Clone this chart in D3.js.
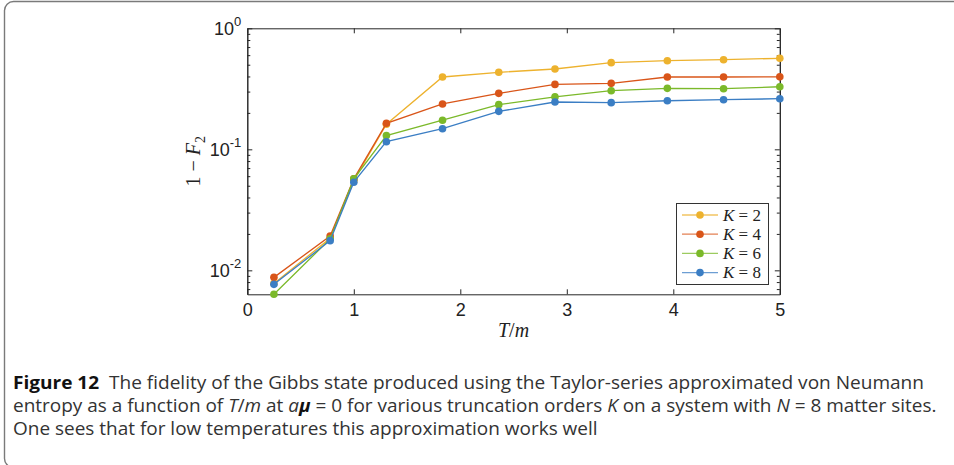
<!DOCTYPE html>
<html>
<head>
<meta charset="utf-8">
<script src="https://cdn.jsdelivr.net/npm/d3@7"></script>
<style>
  body { margin: 0; background: #fff; }
  svg { display: block; }
</style>
</head>
<body>
<svg width="954" height="465"></svg>
<script>
// T/m values where the fidelity was computed
const tm = [0.25, 0.778, 1.0, 1.306, 1.833, 2.361, 2.889, 3.417, 3.944, 4.472, 5.0];
// 1 - F2 for each truncation order K
const k2 = [0.0078, 0.0184, 0.055, 0.161, 0.396, 0.433, 0.461, 0.520, 0.540, 0.550, 0.565];
const k4 = [0.00875, 0.0192, 0.057, 0.164, 0.237, 0.290, 0.344, 0.351, 0.396, 0.396, 0.397];
const k6 = [0.00634, 0.0182, 0.057, 0.130, 0.174, 0.234, 0.271, 0.305, 0.319, 0.317, 0.329];
const k8 = [0.00766, 0.0176, 0.0535, 0.1156, 0.148, 0.206, 0.246, 0.243, 0.252, 0.257, 0.262];
const seriesNames = ["2", "4", "6", "8"];
const xTicks = [0, 1, 2, 3, 4, 5];
const yTicks = [0.01, 0.1, 1];
const yTickExp = ["-2", "-1", "0"];

const colors = ["#EDB22E", "#D95519", "#7BB92A", "#3B7EC4"];
const series = [k2, k4, k6, k8];

const svg = d3.select("svg");
const tickFont = "'Liberation Sans', Arial, Helvetica, sans-serif";
const mathFont = "'Liberation Serif', 'DejaVu Serif', serif";

// figure frame (rounded, runs off the right and bottom)
svg.append("rect")
  .attr("x", 4.5).attr("y", 1.5)
  .attr("width", 1000).attr("height", 466)
  .attr("rx", 9)
  .attr("fill", "none")
  .attr("stroke", "#7a7a7a")
  .attr("stroke-width", 1.4);

const box = {left: 247.3, right: 779.8, top: 28.3, bottom: 294.3};

const x = d3.scaleLinear().domain([0, 5]).range([box.left, box.right]);
const y = d3.scaleLog().domain([Math.pow(10, -2.198), 1]).range([box.bottom, box.top]);

const axisColor = "#262626";

// axes with inward ticks, mirrored on top and right
const xAxisB = d3.axisBottom(x).tickValues(xTicks).tickSize(-5).tickSizeOuter(0).tickPadding(9).tickFormat(d3.format("d"));
const xAxisT = d3.axisTop(x).tickValues(xTicks).tickSize(-5).tickSizeOuter(0).tickFormat("");

svg.append("g").attr("transform", "translate(0," + box.bottom + ")").call(xAxisB)
  .call(g => g.selectAll("text").attr("font-size", 18).attr("font-family", tickFont).attr("fill", "#222"));
svg.append("g").attr("transform", "translate(0," + box.top + ")").call(xAxisT);

// minor log ticks
const minor = [];
[0.001, 0.01, 0.1].forEach(d => {
  for (let m = 2; m <= 9; m++) {
    const v = d * m;
    if (v >= y.domain()[0] && v <= 1) minor.push(v);
  }
});

const yAxisL = d3.axisLeft(y).tickValues(yTicks).tickSize(-5).tickSizeOuter(0).tickFormat("");
const yAxisR = d3.axisRight(y).tickValues(yTicks).tickSize(-5).tickSizeOuter(0).tickFormat("");
const yMinorL = d3.axisLeft(y).tickValues(minor).tickSize(-3).tickSizeOuter(0).tickFormat("");
const yMinorR = d3.axisRight(y).tickValues(minor).tickSize(-3).tickSizeOuter(0).tickFormat("");

svg.append("g").attr("transform", "translate(" + box.left + ",0)").call(yAxisL);
svg.append("g").attr("transform", "translate(" + box.right + ",0)").call(yAxisR);
svg.append("g").attr("transform", "translate(" + box.left + ",0)").call(yMinorL);
svg.append("g").attr("transform", "translate(" + box.right + ",0)").call(yMinorR);

svg.selectAll(".domain, .tick line").attr("stroke", axisColor).attr("stroke-width", 1);

// y tick labels as 10^n
yTicks.forEach((v, i) => {
  const t = svg.append("text")
    .attr("x", box.left - 6)
    .attr("y", y(v) + 7)
    .attr("text-anchor", "end")
    .attr("font-family", tickFont)
    .attr("font-size", 18)
    .attr("fill", "#222");
  t.append("tspan").text("10");
  t.append("tspan").attr("font-size", 13).attr("dy", -9).text(yTickExp[i]);
});

// lines and markers
const line = d3.line().x((d, i) => x(tm[i])).y(d => y(d));
series.forEach((s, k) => {
  svg.append("path")
    .datum(s)
    .attr("d", line)
    .attr("fill", "none")
    .attr("stroke", colors[k])
    .attr("stroke-width", 1.3);
  svg.append("g").selectAll("circle")
    .data(s)
    .enter()
    .append("circle")
    .attr("cx", (d, i) => x(tm[i]))
    .attr("cy", d => y(d))
    .attr("r", 3.8)
    .attr("fill", colors[k]);
});

// axis labels
const xl = svg.append("text")
  .attr("x", (box.left + box.right) / 2)
  .attr("y", 337)
  .attr("text-anchor", "middle")
  .attr("font-family", mathFont)
  .attr("font-size", 20)
  .attr("fill", "#222");
xl.append("tspan").attr("font-style", "italic").text("T");
xl.append("tspan").text("/");
xl.append("tspan").attr("font-style", "italic").text("m");

const yl = svg.append("text")
  .attr("transform", "translate(200," + ((box.top + box.bottom) / 2) + ") rotate(-90)")
  .attr("text-anchor", "middle")
  .attr("font-family", mathFont)
  .attr("font-size", 20)
  .attr("fill", "#222");
yl.append("tspan").text("1 \u2212 ");
yl.append("tspan").attr("font-style", "italic").text("F");
yl.append("tspan").attr("font-size", 14).attr("dy", 5).text("2");

// legend
const legend = svg.append("g");
legend.append("rect")
  .attr("x", 676.5).attr("y", 203.5)
  .attr("width", 92).attr("height", 81)
  .attr("fill", "#fff")
  .attr("stroke", "#333")
  .attr("stroke-width", 1);
seriesNames.forEach((n, k) => {
  const ly = 215 + k * 19.2;
  legend.append("line")
    .attr("x1", 682).attr("x2", 718)
    .attr("y1", ly).attr("y2", ly)
    .attr("stroke", colors[k])
    .attr("stroke-opacity", 0.75)
    .attr("stroke-width", 1.3);
  legend.append("circle")
    .attr("cx", 700).attr("cy", ly).attr("r", 3.8)
    .attr("fill", colors[k]);
  const t = legend.append("text")
    .attr("x", 723).attr("y", ly + 5.5)
    .attr("font-family", mathFont)
    .attr("font-size", 17)
    .attr("fill", "#222")
    .attr("xml:space", "preserve")
    .style("white-space", "pre");
  t.append("tspan").attr("font-style", "italic").text("K");
  t.append("tspan").text(" = " + n);
});

// caption, squeezed horizontally (narrow font in the original)
const capFont = "'Open Sans', 'Noto Sans', sans-serif";
const capLines = [
  {y: 389, end: 925, parts: [
    {t: "Figure 12", w: "bold"},
    {t: "  The fidelity of the Gibbs state produced using the Taylor-series approximated von Neumann"}
  ]},
  {y: 412, end: 937, parts: [
    {t: "entropy as a function of "},
    {t: "T", i: true}, {t: "/"}, {t: "m", i: true},
    {t: " at "},
    {t: "a", i: true}, {t: "\u03bc", i: true, w: "bold"},
    {t: " = 0 for various truncation orders "},
    {t: "K", i: true},
    {t: " on a system with "},
    {t: "N", i: true},
    {t: " = 8 matter sites."}
  ]},
  {y: 435, end: null, parts: [
    {t: "One sees that for low temperatures this approximation works well"}
  ]}
];
const capStart = 13;
const capTexts = capLines.map(l => {
  const t = svg.append("text")
    .attr("x", 0).attr("y", 0)
    .attr("font-family", capFont)
    .attr("font-size", 18)
    .attr("fill", "#333")
    .attr("xml:space", "preserve")
    .style("white-space", "pre");
  l.parts.forEach(p => {
    const s = t.append("tspan").text(p.t);
    if (p.i) s.attr("font-style", "italic");
    if (p.w) s.attr("font-weight", p.w).attr("fill", "#111");
  });
  return t;
});
// the last line has no fixed end, it uses the squeeze of the second line
const baseScale = (937 - capStart) / capTexts[1].node().getComputedTextLength();
capTexts.forEach((t, i) => {
  const l = capLines[i];
  const sx = l.end ? (l.end - capStart) / t.node().getComputedTextLength() : baseScale;
  t.attr("transform", "translate(" + capStart + "," + l.y + ") scale(" + sx + ",1)");
});
</script>
</body>
</html>
